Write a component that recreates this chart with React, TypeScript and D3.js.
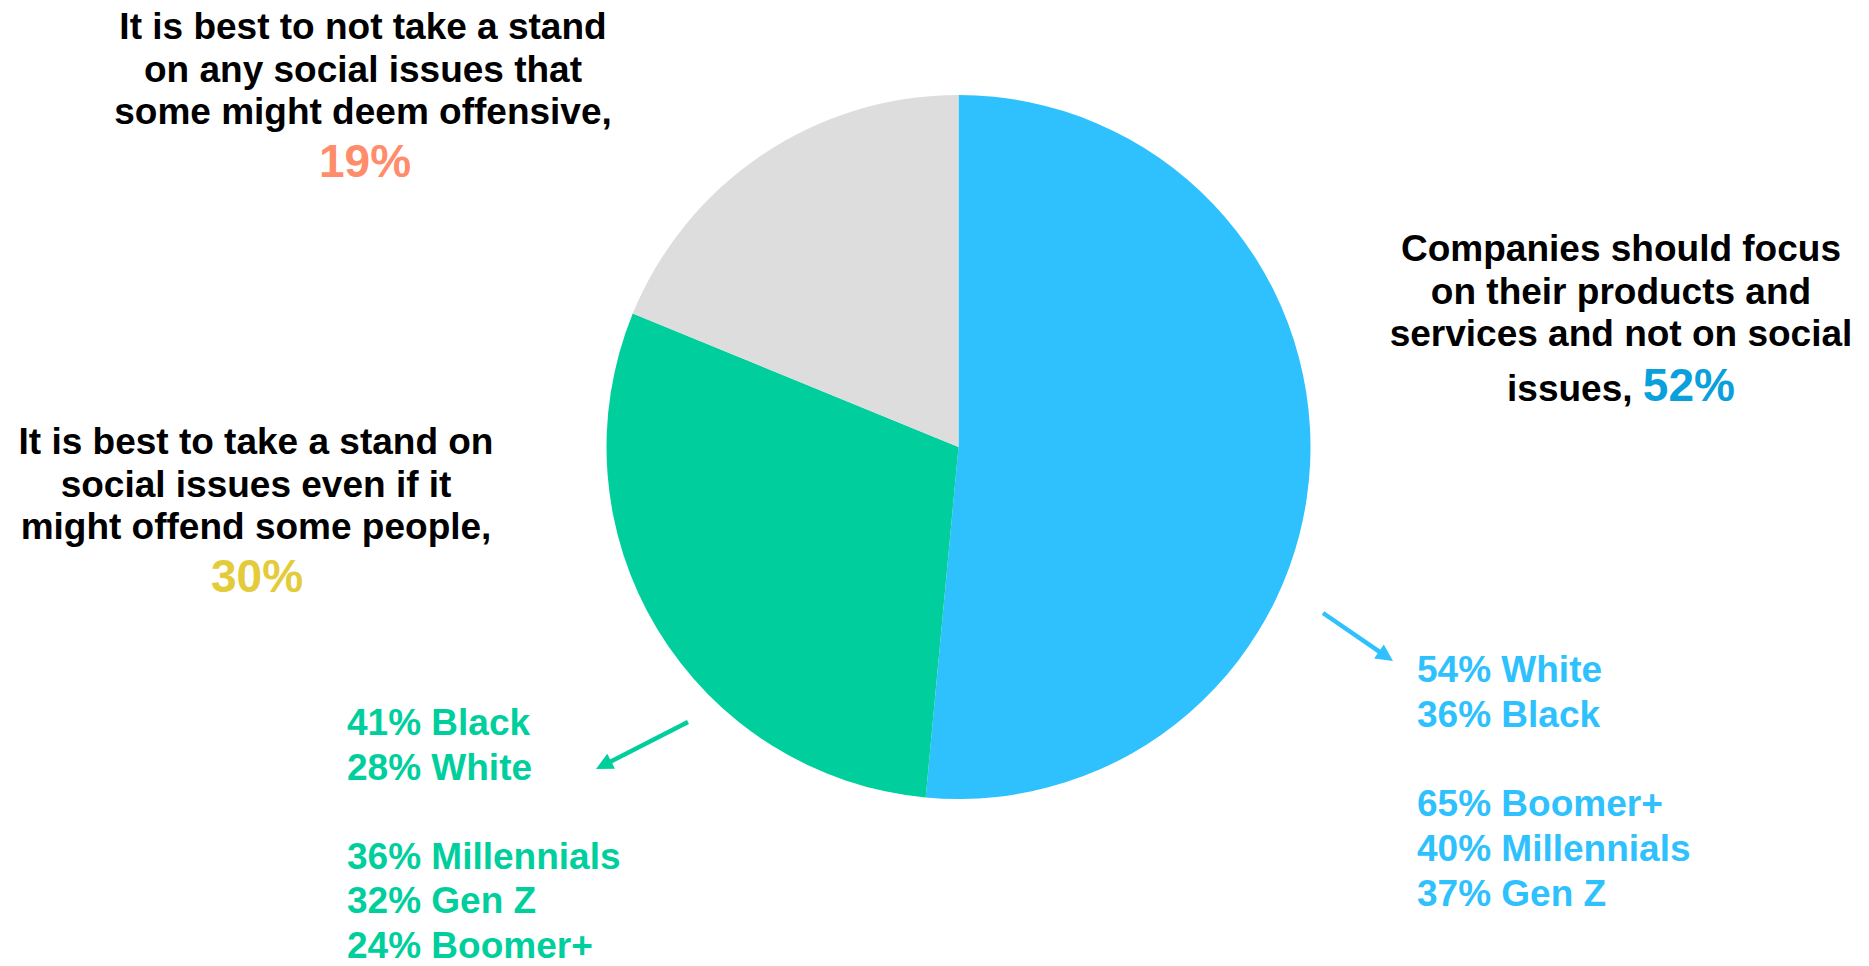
import React from "react";
import * as d3 from "d3";

const categories = [
  "Companies should focus on their products and services and not on social issues",
  "It is best to take a stand on social issues even if it might offend some people",
  "It is best to not take a stand on any social issues that some might deem offensive",
];
const values = [52, 30, 19];
const sliceColors = ["#2EC1FE", "#00CF9D", "#DDDDDD"];

const blueBreakdown = ["54% White", "36% Black", "", "65% Boomer+", "40% Millennials", "37% Gen Z"];
const greenBreakdown = ["41% Black", "28% White", "", "36% Millennials", "32% Gen Z", "24% Boomer+"];

const W = 1869;
const H = 966;
const FONT = "'Liberation Sans', Arial, Helvetica, sans-serif";

function Arrow({ x1, y1, x2, y2, color }: { x1: number; y1: number; x2: number; y2: number; color: string }) {
  const ang = Math.atan2(y2 - y1, x2 - x1);
  const len = 17;
  const hw = 8.5;
  const bx = x2 - len * Math.cos(ang);
  const by = y2 - len * Math.sin(ang);
  const px = -Math.sin(ang);
  const py = Math.cos(ang);
  const pts = [
    [x2, y2],
    [bx + px * hw, by + py * hw],
    [bx - px * hw, by - py * hw],
  ];
  return (
    <g>
      <line x1={x1} y1={y1} x2={bx + 3 * Math.cos(ang)} y2={by + 3 * Math.sin(ang)} stroke={color} strokeWidth={4.5} />
      <polygon points={pts.map((p) => p.join(",")).join(" ")} fill={color} />
    </g>
  );
}

export default function App() {
  const cx = 958.5;
  const cy = 447;
  const r = 352;
  const pie = d3
    .pie<number>()
    .sort(null)
    .value((d) => d)
    .startAngle(0)
    .endAngle(2 * Math.PI);
  const arcs = pie(values);
  const arc = d3.arc<d3.PieArcDatum<number>>().innerRadius(0).outerRadius(r);

  const titleSize = 37;
  const pctSize = 46;
  const lh = 42.5;

  return (
    <svg
      width={W}
      height={H}
      viewBox={`0 0 ${W} ${H}`}
      style={{ position: "absolute", left: 0, top: 0, background: "#fff" }}
      fontFamily={FONT}
      fontWeight="bold"
    >
      <rect x={0} y={0} width={W} height={H} fill="#fff" />
      <g transform={`translate(${cx},${cy})`}>
        {arcs.map((a, i) => (
          <path key={categories[i]} d={arc(a) || ""} fill={sliceColors[i]} />
        ))}
      </g>

      {/* Top-left label: 19% */}
      <g textAnchor="middle" fill="#000" fontSize={titleSize}>
        <text x={363} y={39}>It is best to not take a stand</text>
        <text x={363} y={39 + lh}>on any social issues that</text>
        <text x={363} y={39 + 2 * lh}>some might deem offensive,</text>
        <text x={365} y={177} fontSize={pctSize} fill="#FF8C6B">{values[2]}%</text>
      </g>

      {/* Right label: 52% */}
      <g textAnchor="middle" fill="#000" fontSize={titleSize}>
        <text x={1621} y={261}>Companies should focus</text>
        <text x={1621} y={261 + lh}>on their products and</text>
        <text x={1621} y={261 + 2 * lh}>services and not on social</text>
        <text x={1621} y={400.5}>
          <tspan>issues, </tspan>
          <tspan fontSize={pctSize} fill="#0AA0DC">{values[0]}%</tspan>
        </text>
      </g>

      {/* Left label: 30% */}
      <g textAnchor="middle" fill="#000" fontSize={titleSize}>
        <text x={256} y={454}>It is best to take a stand on</text>
        <text x={256} y={454 + lh}>social issues even if it</text>
        <text x={256} y={454 + 2 * lh}>might offend some people,</text>
        <text x={257} y={592} fontSize={pctSize} fill="#E3CB3A">{values[1]}%</text>
      </g>

      {/* Breakdown blue */}
      <g fontSize={titleSize} fill={sliceColors[0]}>
        {blueBreakdown.map((t, i) =>
          t ? (
            <text key={i} x={1417} y={682 + i * 44.7}>
              {t}
            </text>
          ) : null
        )}
      </g>
      <Arrow x1={1323} y1={613} x2={1393} y2={661} color={sliceColors[0]} />

      {/* Breakdown green */}
      <g fontSize={titleSize} fill={sliceColors[1]}>
        {greenBreakdown.map((t, i) =>
          t ? (
            <text key={i} x={347} y={735 + i * 44.6}>
              {t}
            </text>
          ) : null
        )}
      </g>
      <Arrow x1={688} y1={722} x2={596} y2={769} color={sliceColors[1]} />
    </svg>
  );
}
